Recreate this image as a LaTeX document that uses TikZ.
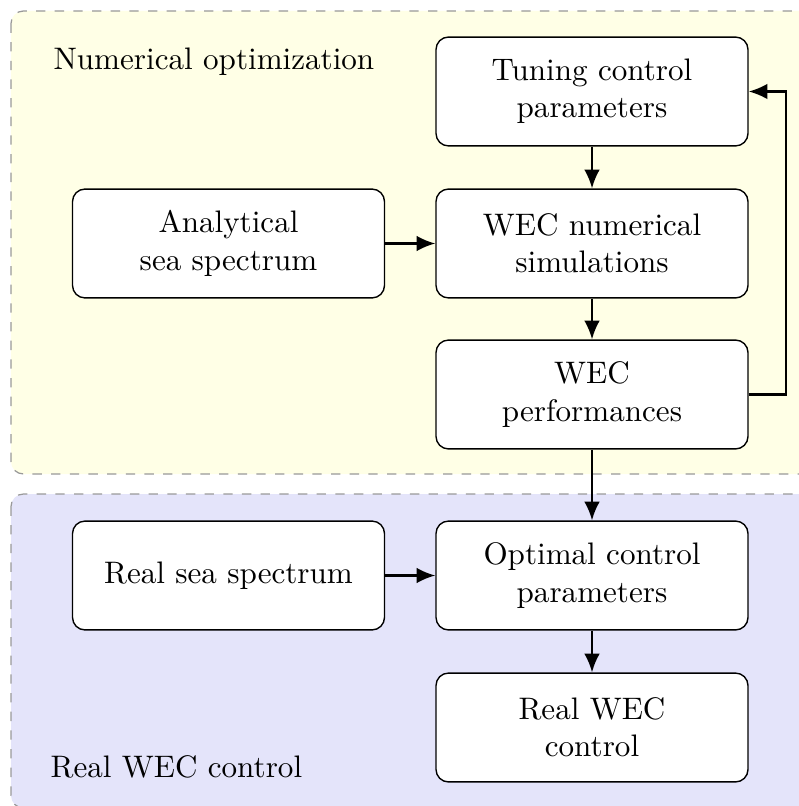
\documentclass[tikz,border=0pt]{standalone}
\usetikzlibrary{arrows.meta}
\definecolor{optfill}{RGB}{255,255,230}
\definecolor{realfill}{RGB}{228,228,250}
\tikzset{
  blockbox/.style={draw=black, fill=white, rounded corners=4pt, line width=0.45pt,
    minimum width=100.3pt, minimum height=35pt, inner sep=0pt, align=center},
  regionbox/.style={draw=black!40, dashed, line width=0.4pt, rounded corners=4pt},
  flow/.style={-{Latex[length=6pt,width=5pt]}, line width=0.7pt},
  regionlabel/.style={anchor=base west, inner sep=0pt}
}
\begin{document}
\begin{tikzpicture}[x=0.3215pt, y=-0.3215pt]
\useasboundingbox (0,0) rectangle (798,806);
\filldraw[regionbox, fill=optfill] (11,11) rectangle (830,474);
\filldraw[regionbox, fill=realfill] (11,494) rectangle (830,808);
\node[regionlabel] (lopt) at (53,70) {Numerical optimization};
\node[regionlabel] (lreal) at (50,777) {Real WEC control};
\node[blockbox] (tune) at (592,91.5) {Tuning control\\parameters};
\node[blockbox] (ana) at (228.5,243.5) {Analytical\\sea spectrum};
\node[blockbox] (sim) at (592,243.5) {WEC numerical\\simulations};
\node[blockbox] (perf) at (592,394.5) {WEC\\performances};
\node[blockbox] (opt) at (592,575.5) {Optimal control\\parameters};
\node[blockbox] (sea) at (228.5,575.5) {Real sea spectrum};
\node[blockbox] (real) at (592,727.5) {Real WEC\\control};
\coordinate (fb) at (786,0);
\draw[flow] (tune) -- (sim);
\draw[flow] (ana) -- (sim);
\draw[flow] (sim) -- (perf);
\draw[flow] (perf) -- (opt);
\draw[flow] (sea) -- (opt);
\draw[flow] (opt) -- (real);
\draw[flow] (perf.east) -- (perf.east -| fb) -- (tune.east -| fb) -- (tune.east);
\end{tikzpicture}
\end{document}
